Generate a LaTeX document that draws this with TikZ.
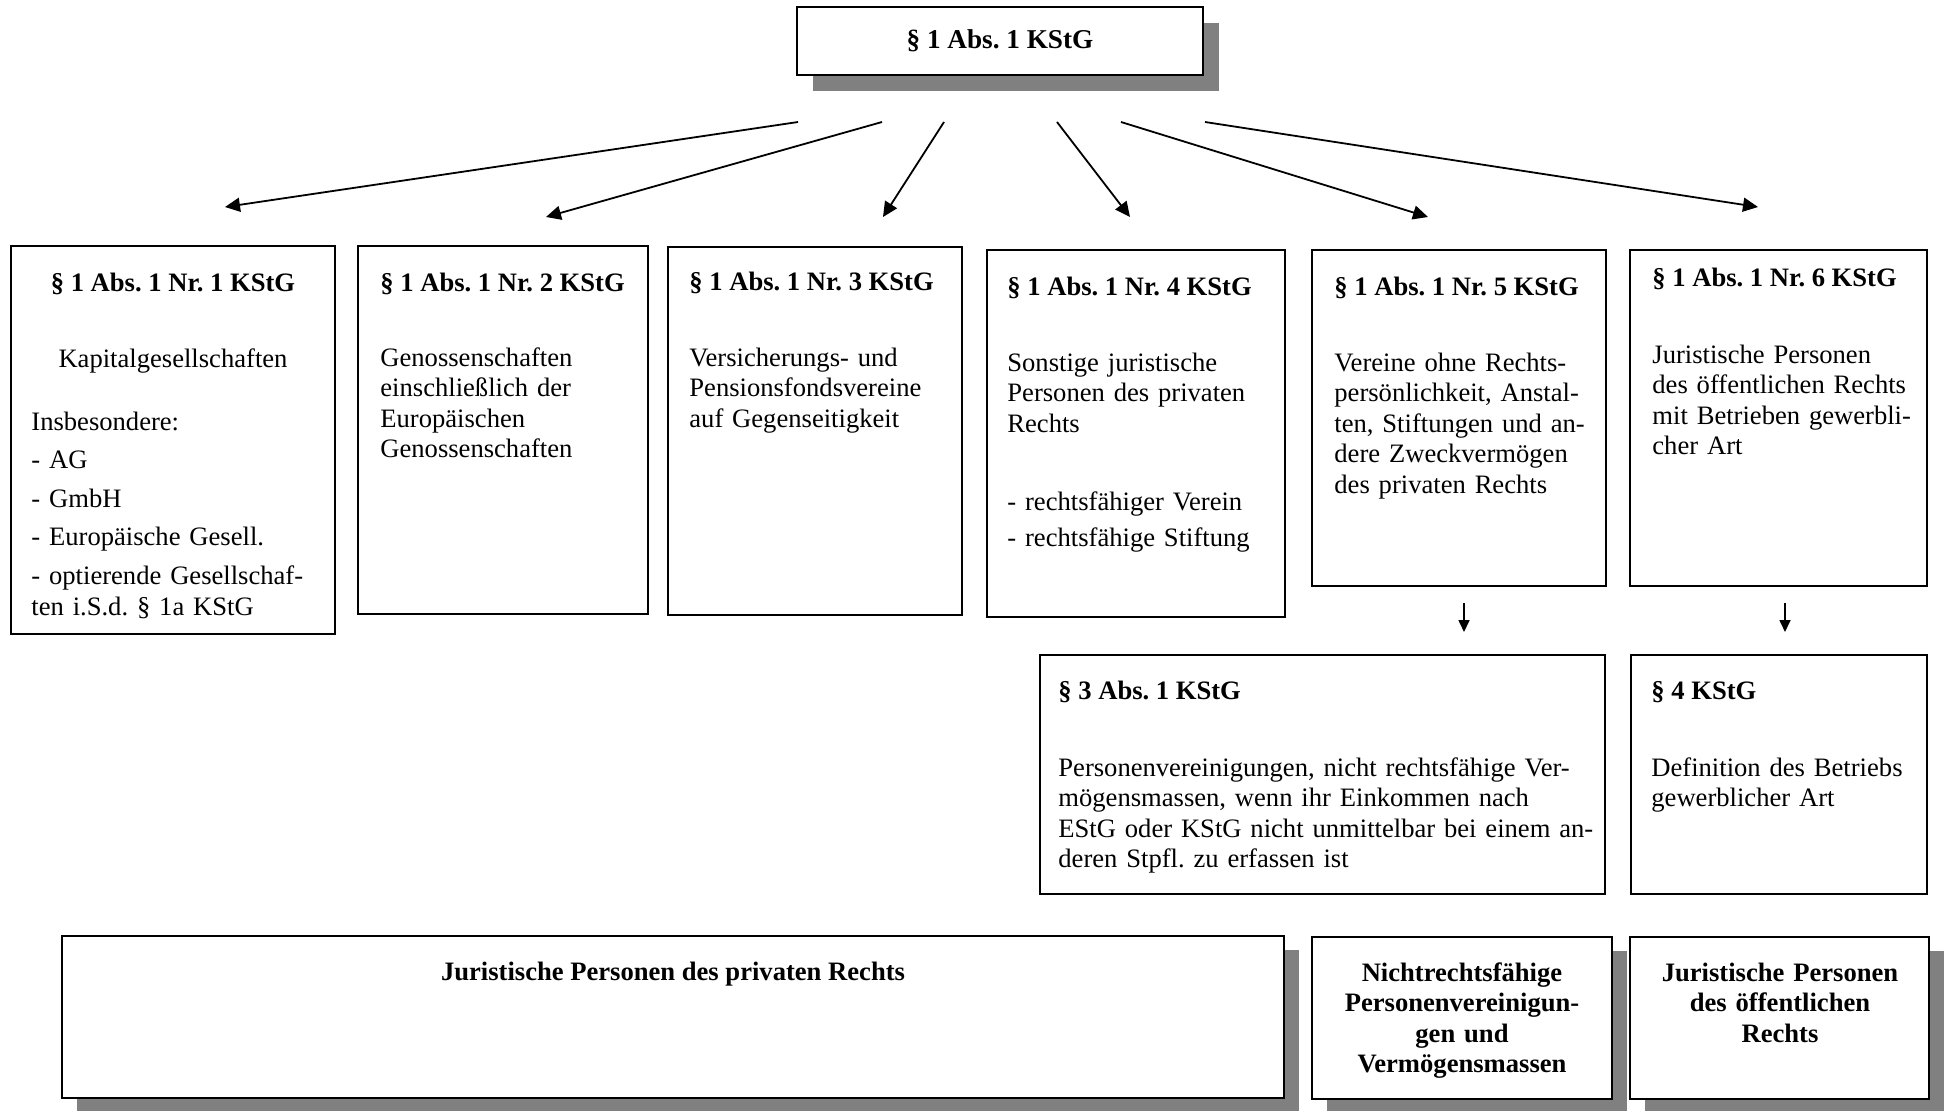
\documentclass[tikz,border=0pt]{standalone}
\usepackage{fontspec}
\setmainfont{Liberation Serif}
\usetikzlibrary{arrows.meta,fit,shadows}
\frenchspacing

\begin{document}
\begin{tikzpicture}[x=0.5pt,y=-0.5pt,
  box/.style={draw,line width=1.1pt,inner sep=0pt,fill=white},
  shade8/.style={drop shadow={shadow xshift=8pt,shadow yshift=-8pt,fill=black!50,opacity=1}},
  shade7/.style={drop shadow={shadow xshift=7.5pt,shadow yshift=-7pt,fill=black!50,opacity=1}},
  tx/.style={font=\fontsize{13.3}{15.3}\selectfont,inner sep=0pt},
  txl/.style={tx,anchor=base west,text width=150pt,align=left},
  hd/.style={font=\fontsize{13.3}{15.3}\selectfont\bfseries,inner sep=0pt},
  hdl/.style={hd,anchor=base west},
  hdc/.style={hd,anchor=base,text width=150pt,align=center},
  arr/.style={-{Triangle[length=7.5pt,width=7pt]},line width=0.9pt},
  sarr/.style={-{Triangle[length=6pt,width=5.5pt]},line width=0.8pt}
]
\useasboundingbox (0,0) rectangle (1945,1110);

% top
\node[box,shade8,fit={(797,7) (1203,75)}] (top) {};
\node[hd,font=\fontsize{13.6}{15.3}\selectfont\bfseries] (topt) at (top.center) {§ 1 Abs. 1 KStG};

% first row
\node[box,fit={(11,246) (335,634)}] (b1) {};
\node[box,fit={(358,246) (648,614)}] (b2) {};
\node[box,fit={(668,247) (962,615)}] (b3) {};
\node[box,fit={(987,250) (1285,617)}] (b4) {};
\node[box,fit={(1312,250) (1606,586)}] (b5) {};
\node[box,fit={(1630,250) (1927,586)}] (b6) {};

% second row
\node[box,fit={(1040,655) (1605,894)}] (b7) {};
\node[box,fit={(1631,655) (1927,894)}] (b8) {};

% bottom row
\node[box,shade7,fit={(62,936) (1284,1098)}] (c1) {};
\node[box,shade7,fit={(1312,937) (1612,1099)}] (c2) {};
\node[box,shade7,fit={(1630,937) (1929,1099)}] (c3) {};

% texts of the first row
\node[hd,anchor=base] (b1t) at (173,291) {§ 1 Abs. 1 Nr. 1 KStG};
\node[tx,anchor=base] (b1s) at (173,367) {Kapitalgesellschaften};
\node[txl] (b1l) at (31,430) {Insbesondere:\\[4pt]- AG\\[4pt]- GmbH\\[4pt]- Europäische Gesell.\\[4pt]- optierende Gesellschaf-\\ten i.S.d. § 1a KStG};

\node[hdl] (b2t) at (380,291) {§ 1 Abs. 1 Nr. 2 KStG};
\node[txl] (b2l) at (380,366) {Genossenschaften\\einschließlich der\\Europäischen\\Genossenschaften};

\node[hdl] (b3t) at (689,290) {§ 1 Abs. 1 Nr. 3 KStG};
\node[txl] (b3l) at (689,366) {Versicherungs- und\\Pensionsfondsvereine\\auf Gegenseitigkeit};

\node[hdl] (b4t) at (1007,295) {§ 1 Abs. 1 Nr. 4 KStG};
\node[txl] (b4l) at (1007,371) {Sonstige juristische\\Personen des privaten\\Rechts};
\node[txl] (b4m) at (1007,510) {- rechtsfähiger Verein\\[2.7pt]- rechtsfähige Stiftung};

\node[hdl] (b5t) at (1334,295) {§ 1 Abs. 1 Nr. 5 KStG};
\node[txl] (b5l) at (1334,371) {Vereine ohne Rechts-\\persönlichkeit, Anstal-\\ten, Stiftungen und an-\\dere Zweckvermögen\\des privaten Rechts};

\node[hdl] (b6t) at (1652,286) {§ 1 Abs. 1 Nr. 6 KStG};
\node[txl] (b6l) at (1652,363) {Juristische Personen\\des öffentlichen Rechts\\mit Betrieben gewerbli-\\cher Art};

% texts of the second row
\node[hdl] (b7t) at (1058,699) {§ 3 Abs. 1 KStG};
\node[txl,text width=300pt] (b7l) at (1058,776) {Personenvereinigungen, nicht rechtsfähige Ver-\\mögensmassen, wenn ihr Einkommen nach\\EStG oder KStG nicht unmittelbar bei einem an-\\deren Stpfl. zu erfassen ist};

\node[hdl] (b8t) at (1651,699) {§ 4 KStG};
\node[txl] (b8l) at (1651,776) {Definition des Betriebs\\gewerblicher Art};

% texts of the bottom row
\node[hd,anchor=base] (c1t) at (673,980) {Juristische Personen des privaten Rechts};
\node[hdc] (c2t) at (1462,981) {Nichtrechtsfähige\\Personenvereinigun-\\gen und\\Vermögensmassen};
\node[hdc] (c3t) at (1780,981) {Juristische Personen\\des öffentlichen\\Rechts};

% arrows from the top box
\coordinate (s1) at (798,122);  \coordinate (e1) at (225,207);
\coordinate (s2) at (882,122);  \coordinate (e2) at (546,217);
\coordinate (s3) at (944,122);  \coordinate (e3) at (883,217);
\coordinate (s4) at (1057,122); \coordinate (e4) at (1130,217);
\coordinate (s5) at (1121,122); \coordinate (e5) at (1428,217);
\coordinate (s6) at (1205,122); \coordinate (e6) at (1758,207);
\foreach \i in {1,...,6} \draw[arr] (s\i) -- (e\i);

% arrows towards the second row
\coordinate (d5) at (1464,603); \coordinate (f5) at (1464,632);
\coordinate (d6) at (1785,603); \coordinate (f6) at (1785,632);
\draw[sarr] (d5) -- (f5);
\draw[sarr] (d6) -- (f6);
\end{tikzpicture}
\end{document}
